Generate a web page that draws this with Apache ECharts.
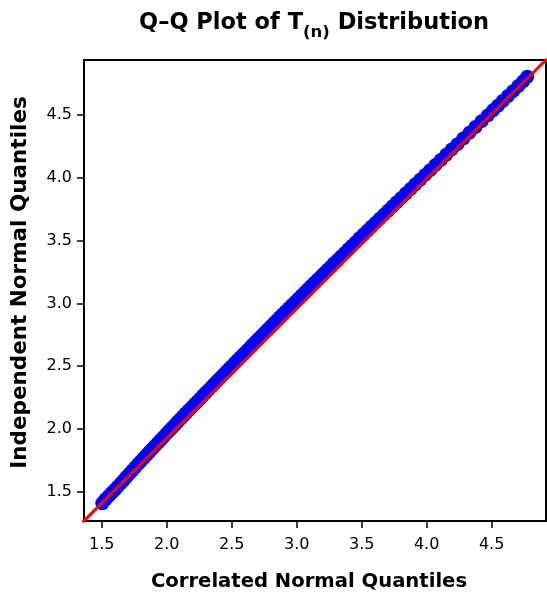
<!DOCTYPE html>
<html>
<head>
<meta charset="utf-8">
<script src="https://cdn.jsdelivr.net/npm/echarts@6/dist/echarts.min.js"></script>
<style>
html,body{margin:0;padding:0;background:#fff;}
#chart{width:547px;height:596px;}
</style>
</head>
<body>
<div id="chart"></div>
<script>
// Quantile pairs (x: correlated, y: independent)
const correlatedQ = [1.505,1.53,1.555,1.578,1.60,1.622,1.645,1.667,1.69,1.712,1.735,1.757,1.78,1.80,1.823,1.845,1.866,1.888,1.91,1.932,1.953,1.975,1.997,2.018,2.04,2.062,2.083,2.105,2.127,2.148,2.17,2.192,2.214,2.236,2.258,2.28,2.302,2.324,2.346,2.368,2.39,2.412,2.434,2.456,2.478,2.50,2.523,2.546,2.569,2.592,2.615,2.638,2.661,2.684,2.707,2.73,2.753,2.776,2.80,2.823,2.846,2.87,2.893,2.917,2.94,2.964,2.988,3.012,3.036,3.06,3.085,3.11,3.135,3.16,3.185,3.21,3.236,3.262,3.288,3.315,3.342,3.37,3.398,3.426,3.455,3.484,3.514,3.544,3.575,3.606,3.638,3.67,3.703,3.736,3.77,3.805,3.84,3.876,3.913,3.95,3.988,4.027,4.067,4.108,4.15,4.193,4.237,4.282,4.328,4.375,4.423,4.47,4.51,4.548,4.585,4.625,4.665,4.705,4.742,4.774];
const independentQ = [1.408,1.44,1.466,1.492,1.514,1.539,1.565,1.59,1.617,1.642,1.668,1.694,1.72,1.742,1.768,1.792,1.816,1.84,1.865,1.889,1.912,1.936,1.961,1.984,2.008,2.032,2.055,2.078,2.103,2.125,2.149,2.172,2.196,2.219,2.243,2.266,2.29,2.313,2.337,2.36,2.384,2.407,2.431,2.453,2.477,2.50,2.525,2.549,2.573,2.597,2.622,2.646,2.67,2.694,2.718,2.742,2.767,2.791,2.816,2.84,2.864,2.889,2.913,2.938,2.962,2.987,3.011,3.036,3.061,3.085,3.111,3.137,3.162,3.188,3.213,3.239,3.266,3.292,3.319,3.346,3.374,3.402,3.431,3.459,3.488,3.518,3.548,3.578,3.61,3.641,3.673,3.705,3.738,3.771,3.805,3.84,3.875,3.911,3.948,3.985,4.023,4.061,4.101,4.142,4.183,4.226,4.268,4.313,4.358,4.404,4.451,4.497,4.537,4.574,4.611,4.651,4.690,4.731,4.768,4.805];
// Reference line endpoints (extends past the plot box, clipped)
const refLineX = [1.3, 5.0];
const refLineY = [1.201, 5.023];
// Tick values
const xTicks = [1.5, 2.0, 2.5, 3.0, 3.5, 4.0, 4.5];
const yTicks = [1.5, 2.0, 2.5, 3.0, 3.5, 4.0, 4.5];

const pts = correlatedQ.map((x, i) => [x, independentQ[i]]);
const refLine = refLineX.map((x, i) => [x, refLineY[i]]);

const font = '"DejaVu Sans", "Liberation Sans", Arial, sans-serif';
const chart = echarts.init(document.getElementById('chart'), null, {renderer: 'canvas'});
chart.setOption({
  animation: false,
  backgroundColor: '#ffffff',
  title: {
    text: '{a|Q\u2013Q Plot of T}{s|(n)}{a| Distribution}',
    left: 139,
    top: 11,
    padding: 0,
    textStyle: {
      rich: {
        a: {fontFamily: font, fontWeight: 'bold', fontSize: 22.5, lineHeight: 24, color: '#000'},
        s: {fontFamily: font, fontWeight: 'bold', fontSize: 16.5, lineHeight: 17, color: '#000', padding: [20, 0, 0, 0]}
      }
    }
  },
  grid: {
    left: 84, top: 60, width: 462, height: 461,
    outerBoundsMode: 'none', containLabel: false,
    show: true, borderColor: '#000', borderWidth: 2, backgroundColor: 'transparent'
  },
  xAxis: {
    type: 'value', min: 1.364, max: 4.918,
    name: 'Correlated Normal Quantiles', nameLocation: 'middle', nameGap: 51,
    nameTextStyle: {fontFamily: font, fontWeight: 'bold', fontSize: 19.6, color: '#000', padding: [0, 12, 0, 0]},
    axisLine: {show: false},
    splitLine: {show: false},
    axisTick: {show: true, inside: false, length: 7, customValues: xTicks, lineStyle: {color: '#000', width: 1.5}},
    axisLabel: {customValues: xTicks, margin: 16, fontFamily: font, fontSize: 16, color: '#000',
      formatter: v => v.toFixed(1)}
  },
  yAxis: {
    type: 'value', min: 1.267, max: 4.938,
    name: 'Independent Normal Quantiles', nameLocation: 'middle', nameGap: 53,
    nameTextStyle: {fontFamily: font, fontWeight: 'bold', fontSize: 21.5, color: '#000', padding: [0, 0, 0, 16]},
    axisLine: {show: false},
    splitLine: {show: false},
    axisTick: {show: true, inside: false, length: 7, customValues: yTicks, lineStyle: {color: '#000', width: 1.5}},
    axisLabel: {customValues: yTicks, margin: 12, fontFamily: font, fontSize: 16, color: '#000',
      formatter: v => v.toFixed(1)}
  },
  series: [
    {
      type: 'scatter', data: pts, symbol: 'circle', symbolSize: 14,
      itemStyle: {color: '#0000ff', opacity: 1}, z: 2, silent: true
    },
    {
      type: 'line', data: refLine, showSymbol: false, symbol: 'none', clip: true,
      lineStyle: {color: '#ff0000', width: 3}, z: 3, silent: true
    }
  ]
});
</script>
</body>
</html>
